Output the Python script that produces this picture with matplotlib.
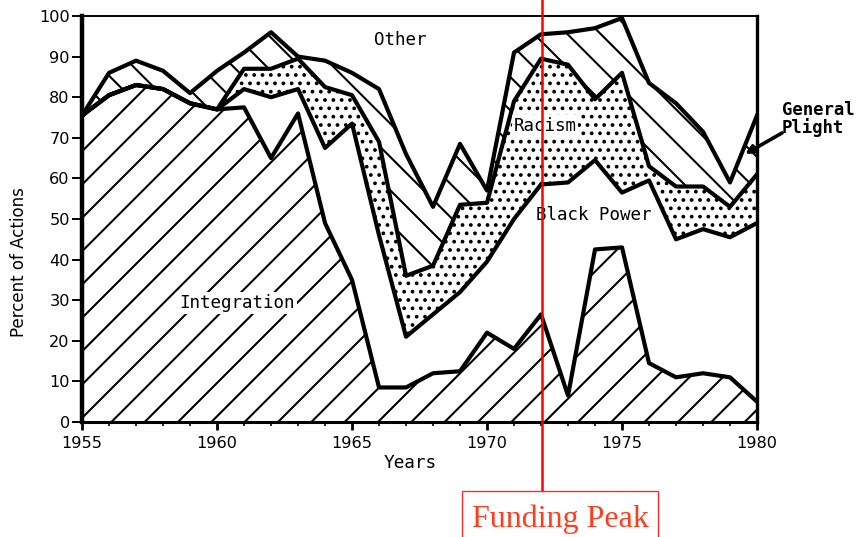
import numpy as np
import matplotlib.pyplot as plt
from matplotlib.patches import Rectangle

# percent of actions by theme, one value per year
years = np.arange(1955, 1981)

integration = [75.5, 80.5, 83, 82, 78.5, 77, 77.5, 65, 76, 49, 35, 8.5, 8.5,
               12, 12.5, 22, 18, 26.5, 6.5, 42.5, 43, 14.5, 11, 12, 11, 5]
black_power = [0, 0, 0, 0, 0, 0, 4.5, 15, 6, 18.5, 38.5, 37.5, 12.5,
               14.5, 19.5, 17.5, 32, 32, 52.5, 22, 13.5, 45, 34, 35.5, 34.5, 44]
racism = [0, 0, 0, 0, 0, 0, 5, 7, 7.5, 15, 7, 23, 15,
          12, 21.5, 14.5, 29, 31, 29, 15, 29.5, 3.5, 13, 10.5, 7.5, 12]
general_plight = [0, 5.5, 6, 4.5, 2.5, 9.5, 4, 9, 0.5, 6.5, 5.5, 13, 30,
                  14.5, 15, 3, 12, 6, 8, 17.5, 13.5, 20.5, 20.5, 13.5, 6, 14.5]

hatches = ['//', None, '....', '\\\\']
funding_peak = 1972.05

plt.rcParams['hatch.linewidth'] = 0.75
mono = 'DejaVu Sans Mono'

fig = plt.figure(figsize=(4.29, 2.685), dpi=200)
ax = fig.add_axes([0.0956, 0.2142, 0.7867, 0.756])

stack = np.cumsum([integration, black_power, racism, general_plight], axis=0)
bottom = np.zeros(len(years))
for top, h in zip(stack, hatches):
    ax.fill_between(years, bottom, top, facecolor='white', edgecolor='black',
                    hatch=h, linewidth=0)
    bottom = top
for line in stack:
    ax.plot(years, line, color='black', lw=1.5)

ax.set_xlim(1955, 1980)
ax.set_ylim(0, 100)
ax.set_xticks(range(1955, 1981, 5))
ax.set_xticks(years, minor=True)
ax.set_yticks(range(0, 101, 10))
ax.tick_params(axis='x', which='major', length=2.9, width=1.0, pad=2.3, labelsize=5.8)
ax.tick_params(axis='x', which='minor', length=1.6, width=0.6)
ax.tick_params(axis='y', length=3.6, width=0.7, pad=0.8, labelsize=5.8)

ax.spines['left'].set_linewidth(1.6)
ax.spines['bottom'].set_linewidth(1.1)
ax.spines['right'].set_linewidth(1.2)
ax.spines['top'].set_linewidth(0.7)

box = dict(facecolor='white', edgecolor='none', pad=0.6)
ax.text(1966.78, 94.1, 'Other', family=mono, size=6.3, ha='center', va='center', bbox=box)
ax.text(1972.15, 73.0, 'Racism', family=mono, size=6.3, ha='center', va='center', bbox=box)
ax.text(1973.94, 50.9, 'Black Power', family=mono, size=6.3, ha='center', va='center')
ax.text(1960.74, 29.3, 'Integration', family=mono, size=6.3, ha='center', va='center', bbox=box)

fig.text(782 / 858, 1 - 133 / 537, 'General\nPlight', family=mono, size=6.2,
         weight='bold', ha='left', va='baseline', linespacing=0.95)
ax.annotate('', xy=(1979.56, 66.0), xytext=(1980.93, 71.2), annotation_clip=False,
            arrowprops=dict(arrowstyle='-|>', color='black', lw=1.3,
                            mutation_scale=6, shrinkA=0, shrinkB=0))

fig.text(19 / 858, 1 - 262 / 537, 'Percent of Actions', size=6.0,
         rotation=90, ha='center', va='center')
fig.text(410 / 858, 1 - 463 / 537, 'Years', family=mono, size=6.4,
         ha='center', va='center')

ax.axvline(funding_peak, ymin=-0.1675, ymax=1.05, color='red', lw=0.9,
           clip_on=False, zorder=10)
fig.patches.append(Rectangle((461.7 / 858, -30 / 537), 196.6 / 858, (537 - 490.7 + 30) / 537,
                             transform=fig.transFigure, fill=False,
                             edgecolor='#ff2a2a', lw=0.5))
fig.text(560 / 858, 1 - 527 / 537, 'Funding Peak', family='Liberation Serif',
         size=11.5, color='#ff3c1e', ha='center', va='baseline')

fig.savefig('out.png', dpi=200)
